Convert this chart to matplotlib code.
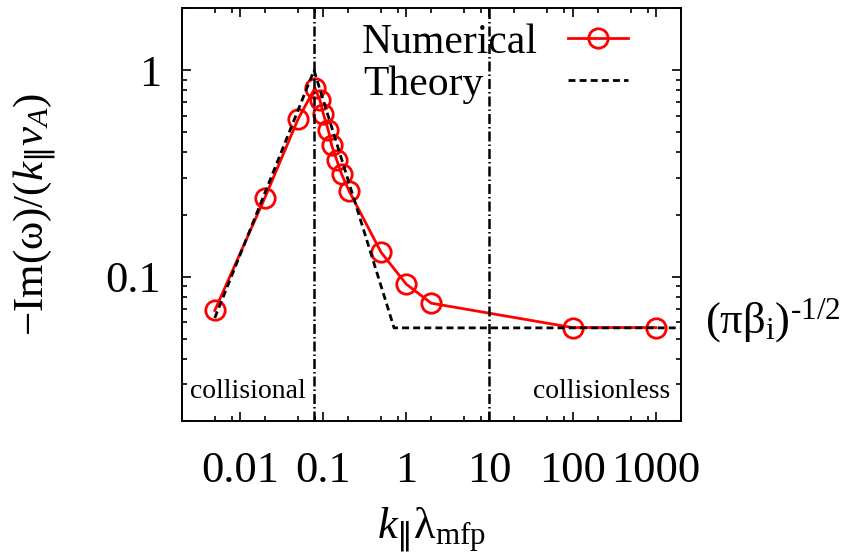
import matplotlib
matplotlib.use('Agg')
import matplotlib.pyplot as plt
from matplotlib.lines import Line2D
from matplotlib.ticker import LogLocator, NullFormatter, FixedLocator, FixedFormatter
from matplotlib.legend import Legend

# ---- data ----
k_num = [0.005, 0.02, 0.05, 0.080, 0.092, 0.101, 0.116, 0.127, 0.146, 0.168, 0.206,
         0.5, 1.0, 2.0, 100, 1000]
gamma_num = [0.0685, 0.241, 0.579, 0.821, 0.716, 0.615, 0.511, 0.434, 0.368, 0.313, 0.260,
             0.131, 0.092, 0.0743, 0.0566, 0.0566]
k_theory = [0.005, 0.078, 0.715, 2000]
gamma_theory = [0.063, 1.0, 0.0564, 0.0564]
k_boundaries = [0.078, 10]
xticks = [0.01, 0.1, 1, 10, 100, 1000]
xticklabels = ['0.01', '0.1', '1', '10', '100', '1000']
yticks = [0.1, 1]
yticklabels = ['0.1', '1']
legend_labels = ['Numerical', 'Theory']

plt.rcParams['font.family'] = ['Liberation Serif', 'DejaVu Serif']
plt.rcParams['mathtext.fontset'] = 'custom'
plt.rcParams['mathtext.rm'] = 'Liberation Serif'
plt.rcParams['mathtext.it'] = 'Liberation Serif:italic'
plt.rcParams['mathtext.bf'] = 'Liberation Serif:bold'
plt.rcParams['mathtext.sf'] = 'DejaVu Sans'
plt.rcParams['mathtext.fallback'] = 'stix'

fig = plt.figure(figsize=(8.49, 5.56), dpi=100)
ax = fig.add_axes([0.214, 0.2433, 0.5878, 0.7418])
ax.set_xscale('log')
ax.set_yscale('log')
ax.set_xlim(0.002, 2000)
ax.set_ylim(0.02, 2)

red = '#ff0000'
num_style = dict(color=red, lw=2.0, marker='o', ms=14, mfc='none', mec=red, mew=2.0)
num_line, = ax.plot(k_num, gamma_num, zorder=3, **num_style)
theory_style = dict(color='black', lw=2.0, linestyle=(0, (2.5, 1.5)))
th_line, = ax.plot(k_theory, gamma_theory, zorder=4, **theory_style)
for kb in k_boundaries:
    ax.axvline(kb, color='black', lw=1.8, linestyle=(0, (4.0, 1.2, 0.6, 1.2)), zorder=5)

# ticks
ax.xaxis.set_major_locator(FixedLocator(xticks))
ax.xaxis.set_major_formatter(FixedFormatter(xticklabels))
ax.xaxis.set_minor_locator(LogLocator(base=10, subs=(2, 5, 8), numticks=50))
ax.xaxis.set_minor_formatter(NullFormatter())
ax.yaxis.set_major_locator(FixedLocator(yticks))
ax.yaxis.set_major_formatter(FixedFormatter(yticklabels))
ax.yaxis.set_minor_locator(LogLocator(base=10, subs=tuple(range(2, 10)), numticks=50))
ax.yaxis.set_minor_formatter(NullFormatter())
ax.tick_params(which='both', direction='in', top=True, right=True, width=1.2, color='black')
ax.tick_params(which='major', length=6.5)
ax.tick_params(which='minor', length=3.5)
ax.tick_params(axis='x', which='major', labelsize=32, pad=22)
ax.tick_params(axis='y', which='major', labelsize=32, pad=15)
for s in ax.spines.values():
    s.set_linewidth(1.4)

ax.set_xlabel(r'$k_{\mathsf{\Vert}}$λ$_{\mathrm{mfp}}$', fontsize=32)
ax.xaxis.set_label_coords(0.5, -0.207)
ax.set_ylabel(r'$-$Im(ω)/($k_{\mathsf{\Vert}}v_A$)', fontsize=31)
ax.yaxis.set_label_coords(-0.245, 0.5)

# region labels
ax.text(0.0166, 0.054, 'collisional', transform=ax.transAxes, fontsize=20,
        ha='left', va='baseline')
ax.text(0.9786, 0.054, 'collisionless', transform=ax.transAxes, fontsize=20,
        ha='right', va='baseline')
ax.text(1.0487, 0.212, '(πβ$_{\\mathrm{i}}$)$^{\\mathrm{\u2010}1/2}$', transform=ax.transAxes,
        fontsize=32, ha='left', va='baseline', clip_on=False)

# legend: labels as text, handles as legend entries
ax.text(0.361, 0.891, legend_labels[0], transform=ax.transAxes, fontsize=30,
        ha='left', va='baseline')
ax.text(0.363, 0.790, legend_labels[1], transform=ax.transAxes, fontsize=30,
        ha='left', va='baseline')
h_num = Line2D([], [], **num_style)
h_th = Line2D([], [], **theory_style)
leg1 = Legend(ax, [h_num], [''], loc='center left', bbox_to_anchor=(0.7748, 0.925),
              frameon=False, fontsize=10, handlelength=4.32, handletextpad=0,
              borderpad=0, borderaxespad=0, numpoints=1)
leg2 = Legend(ax, [h_th], [''], loc='center left', bbox_to_anchor=(0.7748, 0.824),
              frameon=False, fontsize=10, handlelength=4.32, handletextpad=0,
              borderpad=0, borderaxespad=0)
ax.add_artist(leg1)
ax.add_artist(leg2)

fig.savefig('out.png', dpi=100)
